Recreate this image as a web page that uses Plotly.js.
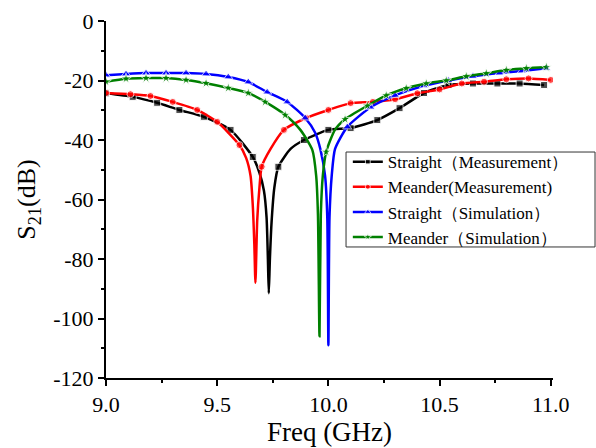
<!DOCTYPE html>
<html><head><meta charset="utf-8">
<script src="https://cdn.plot.ly/plotly-3.0.1.min.js"></script>
<style>html,body{margin:0;padding:0;background:#fff}#plot{width:596px;height:448px}</style>
</head><body><div id="plot"></div>
<script>
// ---- data ----
// Straight (Measurement) – marker points and dip shape
var smFreq = [9.0, 9.12, 9.23, 9.33, 9.44, 9.56, 9.66, 9.775, 9.89, 10.0, 10.1, 10.22, 10.32, 10.43, 10.54, 10.65, 10.76, 10.86, 10.97];
var smS21  = [-24.3, -25.5, -27.5, -29.9, -32.2, -36.6, -45.7, -49.0, -40.0, -36.6, -36.0, -33.3, -29.3, -24.2, -21.5, -21.0, -21.0, -21.0, -21.5];
var smDipFreq = [9.69, 9.71, 9.722, 9.728, 9.732, 9.737, 9.745, 9.757, 9.83];
var smDipS21  = [-51.0, -57.0, -66.0, -80.0, -91.5, -80.0, -67.0, -56.0, -43.0];

// Meander (Measurement)
var mmFreq = [9.0, 9.11, 9.2, 9.3, 9.41, 9.5, 9.6, 9.7, 9.8, 9.9, 10.0, 10.1, 10.2, 10.3, 10.4, 10.5, 10.6, 10.7, 10.8, 10.9, 11.0];
var mmS21  = [-24.2, -24.6, -25.2, -27.2, -29.9, -33.9, -41.7, -49.0, -36.6, -32.6, -29.9, -27.6, -27.2, -26.3, -24.3, -23.0, -21.0, -20.4, -19.6, -19.3, -19.8];
var mmDipFreq = [9.63, 9.65, 9.66, 9.667, 9.672, 9.68, 9.69, 9.74];
var mmDipS21  = [-46.0, -52.0, -62.0, -75.0, -88.0, -67.0, -56.0, -43.0];

// Straight (Simulation)
var ssFreq = [9.0, 9.09, 9.18, 9.27, 9.36, 9.45, 9.55, 9.64, 9.725, 9.815, 9.896, 10.085, 10.19, 10.3, 10.43, 10.54, 10.65, 10.77, 10.87, 10.98];
var ssS21  = [-18.2, -17.8, -17.5, -17.5, -17.5, -17.8, -18.8, -20.5, -23.9, -27.2, -32.6, -35.6, -29.0, -25.0, -21.8, -20.0, -18.6, -17.5, -16.8, -15.9];
var ssDipFreq = [9.94, 9.965, 9.985, 9.995, 10.0, 10.005, 10.015, 10.03];
var ssDipS21  = [-37.5, -43.4, -52.0, -66.0, -109.0, -66.0, -52.0, -43.0];

// Meander (Simulation)
var msFreq = [9.0, 9.09, 9.18, 9.27, 9.36, 9.45, 9.55, 9.64, 9.716, 9.806, 9.99, 10.075, 10.175, 10.26, 10.35, 10.44, 10.53, 10.62, 10.71, 10.80, 10.89, 10.98];
var msS21  = [-20.4, -19.4, -19.2, -19.2, -19.8, -20.9, -22.5, -24.2, -27.2, -31.6, -44.0, -33.0, -28.5, -25.0, -22.6, -21.0, -20.0, -18.6, -17.6, -16.5, -15.9, -15.5];
var msDipFreq = [9.874, 9.928, 9.945, 9.953, 9.96, 9.966, 9.975, 10.03];
var msDipS21  = [-36.6, -43.4, -52.0, -65.0, -106.0, -65.0, -52.0, -36.5];

var seriesNames = ['Straight\uFF08Measurement\uFF09', 'Meander(Measurement)', 'Straight\uFF08Simulation\uFF09', 'Meander\uFF08Simulation\uFF09'];
var yTickVals = [0, -20, -40, -60, -80, -100, -120];
var yTickText = ['0', '-20', '-40', '-60', '-80', '-100', '-120'];
var xTickVals = [9.0, 9.5, 10.0, 10.5, 11.0];
var xTickText = ['9.0', '9.5', '10.0', '10.5', '11.0'];

// ---- build traces ----
function build(mx, my, dx, dy, name, color, symbol, msize) {
  var pts = [];
  for (var i = 0; i < mx.length; i++) pts.push({x: mx[i], y: my[i], m: true});
  for (var j = 0; j < dx.length; j++) pts.push({x: dx[j], y: dy[j], m: false});
  pts.sort(function (a, b) { return a.x - b.x; });
  return {
    type: 'scatter', mode: 'lines+markers', name: name,
    x: pts.map(function (p) { return p.x; }),
    y: pts.map(function (p) { return p.y; }),
    line: {color: color, width: 2.5, shape: 'spline', smoothing: 0.6},
    marker: {color: color, symbol: symbol, size: pts.map(function (p) { return p.m ? msize : 0; })}
  };
}
var traces = [
  build(smFreq, smS21, smDipFreq, smDipS21, seriesNames[0], '#000000', 'square', 7),
  build(mmFreq, mmS21, mmDipFreq, mmDipS21, seriesNames[1], '#ff0000', 'circle', 7),
  build(ssFreq, ssS21, ssDipFreq, ssDipS21, seriesNames[2], '#0000ff', 'triangle-up', 8),
  build(msFreq, msS21, msDipFreq, msDipS21, seriesNames[3], '#008000', 'star', 8)
];

var serif = '"Times New Roman", "Liberation Serif", serif';
var layout = {
  width: 596, height: 448,
  margin: {l: 106, r: 43, t: 21, b: 70},
  paper_bgcolor: '#fff', plot_bgcolor: '#fff',
  showlegend: true,
  font: {family: serif, color: '#000'},
  xaxis: {
    range: [9.0, 11.01], showgrid: false, zeroline: false,
    showline: true, linecolor: '#000', linewidth: 2,
    ticks: 'outside', ticklen: 6, tickwidth: 2, tickcolor: '#000',
    tickvals: xTickVals, ticktext: xTickText,
    tickfont: {family: serif, size: 22, color: '#000'},
    minor: {ticks: 'outside', ticklen: 3, tickwidth: 2, tickcolor: '#000', dtick: 0.25, tick0: 9.0, showgrid: false},
    title: {text: 'Freq (GHz)', font: {family: serif, size: 27, color: '#000'}, standoff: 2}
  },
  yaxis: {
    range: [-120, 0], showgrid: false, zeroline: false,
    showline: true, linecolor: '#000', linewidth: 2,
    ticks: 'outside', ticklen: 6, tickwidth: 2, tickcolor: '#000',
    tickvals: yTickVals, ticktext: yTickText,
    tickfont: {family: serif, size: 22, color: '#000'},
    minor: {ticks: 'outside', ticklen: 3, tickwidth: 2, tickcolor: '#000', dtick: 10, tick0: 0, showgrid: false},
    title: {text: 'S<sub>21</sub>(dB)', font: {family: serif, size: 26, color: '#000'}, standoff: 10}
  },
  shapes: [{
    type: 'rect', xref: 'paper', yref: 'paper', layer: 'above',
    x0: 0.537, x1: 1.094, y0: 0.367, y1: 0.633,
    line: {color: '#333', width: 1}, fillcolor: '#fff'
  }],
  legend: {
    x: 0.541, y: 0.655, xanchor: 'left', yanchor: 'top',
    bgcolor: 'rgba(0,0,0,0)', borderwidth: 0,
    font: {family: serif, size: 17, color: '#000'},
    tracegroupgap: 0, itemwidth: 30
  }
};
Plotly.newPlot('plot', traces, layout, {displayModeBar: false, staticPlot: true});
</script>
</body></html>
